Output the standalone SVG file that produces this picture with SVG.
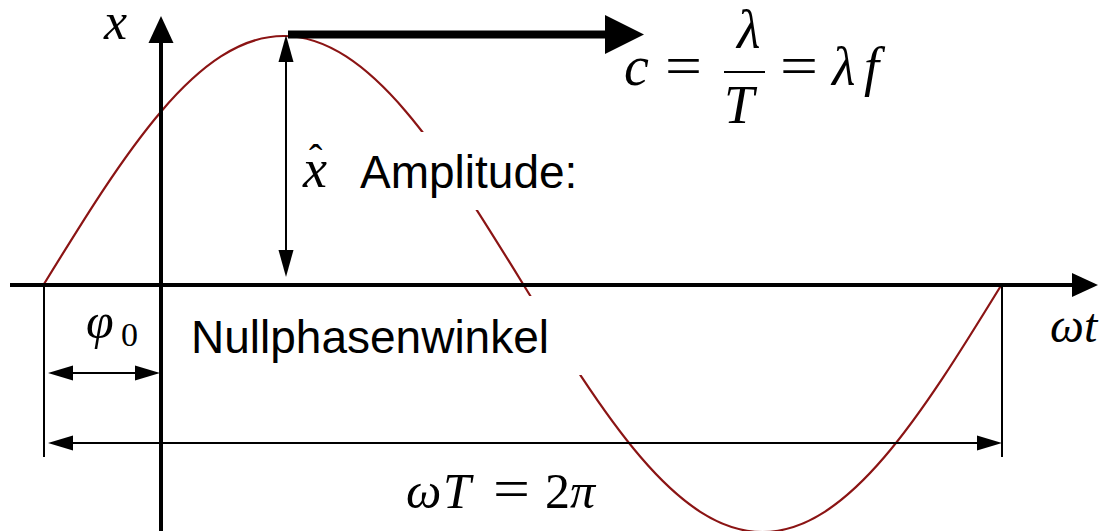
<svg xmlns="http://www.w3.org/2000/svg" width="1105" height="531" viewBox="0 0 1105 531">
<style>
.math{font-family:"Liberation Serif","DejaVu Serif",serif;font-style:italic;fill:#000}
.up{font-family:"Liberation Serif","DejaVu Serif",serif;font-style:normal;fill:#000}
.lbl{font-family:"Liberation Sans",Arial,sans-serif;fill:#000}
.thin{stroke:#000;stroke-width:2;fill:none}
.axis{stroke:#000;stroke-width:4;fill:none}
.head{fill:#000}
</style>
<rect x="0" y="0" width="1105" height="531" fill="#fff"/>
<g id="curve">
<path d="M44,284 C124.06,153.8 197.1,36 283.5,36 C369.9,36 442.94,153.8 523,284 C603.06,414.2 676.1,532 762.5,532 C848.9,532 921.94,414.2 1002,284" fill="none" stroke="#8b1414" stroke-width="2.2"/>
</g>
<g id="masks" fill="#fff">
<rect x="298" y="132" width="292" height="78"/>
<rect x="180" y="296" width="420" height="79"/>
</g>
<g id="connectors">
<line class="axis" x1="10" y1="285" x2="1074" y2="285"/>
<polygon class="head" points="1072,273 1098,285 1072,297"/>
<line class="axis" x1="161" y1="531" x2="161" y2="42"/>
<polygon class="head" points="148.5,43 161,16 173.5,43"/>
<line class="thin" x1="286" y1="60" x2="286" y2="252"/>
<polygon class="head" points="278.5,62 286,35 293.5,62"/>
<polygon class="head" points="278.5,250 286,277 293.5,250"/>
<rect class="head" x="288" y="30.5" width="319" height="8"/>
<polygon class="head" points="605,15 644,34.5 605,54"/>
<line class="thin" x1="44" y1="285" x2="44" y2="457"/>
<line class="thin" x1="1002" y1="285" x2="1002" y2="457"/>
<line class="thin" x1="70" y1="373" x2="140" y2="373"/>
<polygon class="head" points="73,365.5 48,373 73,380.5"/>
<polygon class="head" points="135,365.5 160,373 135,380.5"/>
<line class="thin" x1="70" y1="443" x2="980" y2="443"/>
<polygon class="head" points="73,435.5 48,443 73,450.5"/>
<polygon class="head" points="977,435.5 1002,443 977,450.5"/>
<line x1="724" y1="72" x2="765" y2="72" stroke="#000" stroke-width="2.2"/>
</g>
<g id="label-x"><text class="math" x="104" y="39" font-size="52">x</text></g>
<g id="label-amplitude">
<text class="math" x="303" y="187" font-size="54">x<tspan class="up" x="309" y="172" font-size="40">ˆ</tspan></text>
<text class="lbl" x="360" y="188" font-size="46">Amplitude:</text>
</g>
<g id="label-phase">
<text class="math" x="86" y="338" font-size="50">φ<tspan class="up" x="121" y="346" font-size="34">0</tspan></text>
<text class="lbl" x="191" y="353" font-size="46">Nullphasenwinkel</text>
</g>
<g id="label-wt">
<text class="math" x="1050" y="342" font-size="48">ωt</text>
</g>
<g id="label-period">
<text class="math" x="406" y="508" font-size="50">ω<tspan x="443">T</tspan></text>
<text class="up" x="493" y="508" font-size="56" textLength="37" lengthAdjust="spacingAndGlyphs">=</text>
<text class="up" x="545" y="508" font-size="50">2</text>
<text class="math" x="570" y="508" font-size="50">π</text>
</g>
<g id="label-formula">
<text class="math" x="624" y="85" font-size="56">c</text>
<text class="up" x="665" y="85" font-size="56" textLength="37" lengthAdjust="spacingAndGlyphs">=</text>
<text class="math" x="737" y="48" font-size="54">λ</text>
<text class="math" x="724" y="123" font-size="54">T</text>
<text class="up" x="780" y="85" font-size="56" textLength="38" lengthAdjust="spacingAndGlyphs">=</text>
<text class="math" x="832" y="85" font-size="54">λ</text>
<text class="math" x="864" y="85" font-size="54">f</text>
</g>
</svg>
